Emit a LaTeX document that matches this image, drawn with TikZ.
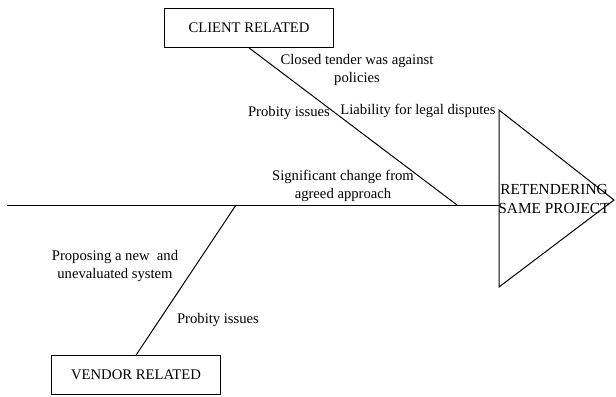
\documentclass[tikz,border=0pt]{standalone}
\usepackage{fontspec}
\setmainfont{Liberation Serif}
\usetikzlibrary{
    calc,
    positioning
}
\tikzset{
    every picture/.style = {
        x = 0.75pt,
        y = -0.75pt,
        line width = 0.75pt
    },
    causebox/.style = {
        draw,
        inner sep = 0pt,
        minimum width = 127pt,
        minimum height = 29pt,
        font = \fontsize{11}{13}\selectfont
    },
    note/.style = {
        inner sep = 0pt,
        align = center,
        font = \fontsize{11}{13.5}\selectfont
    }
}

\begin{document}
\begin{tikzpicture}
    \useasboundingbox (0, 0) rectangle (616, 396);
    % causes
    \node[causebox] (client) at (249, 28) {CLIENT RELATED};
    \node[causebox] (vendor) at (136, 375) {VENDOR RELATED};
    % effect
    \coordinate (top) at (499, 110);
    \coordinate (apex) at (614, 200);
    \coordinate (bottom) at (499, 287);
    \draw (top) -- (apex) -- (bottom) -- cycle;
    \node[note, font = \fontsize{11.5}{14.5}\selectfont] (effect) at (554, 199) {RETENDERING\\SAME PROJECT};
    % spine and bones
    \coordinate (tail) at (7, 205);
    \coordinate (head) at (499, 205);
    \coordinate (cjoint) at (457, 205);
    \coordinate (vjoint) at (236, 205);
    \draw (tail) -- (head);
    \draw (client.south) -- (cjoint);
    \draw (vendor.north) -- (vjoint);
    % labels
    \node[note] (closed) at (357, 70) {Closed tender was against\\policies};
    \node[note] (probc) at (289, 113) {Probity issues};
    \node[note] (liab) at (418, 111) {Liability for legal disputes};
    \node[note] (signif) at (343, 186) {Significant change from\\agreed approach};
    \node[note] (propose) at (115, 266) {Proposing a new~ and\\unevaluated system};
    \node[note] (probv) at (218, 320) {Probity issues};
\end{tikzpicture}
\end{document}
